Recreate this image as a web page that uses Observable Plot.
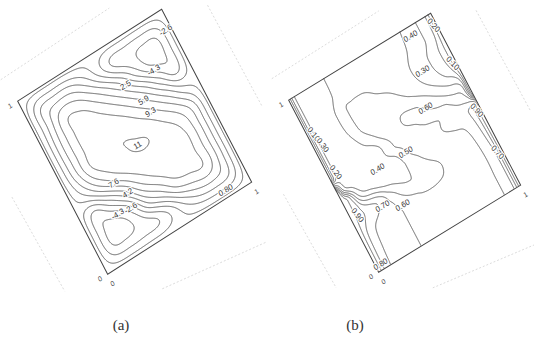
<!DOCTYPE html>
<html>
<head>
<meta charset="utf-8">
<script src="https://cdn.jsdelivr.net/npm/d3@7"></script>
<script src="https://cdn.jsdelivr.net/npm/@observablehq/plot@0.6"></script>
<style>
  html, body { margin: 0; padding: 0; background: #fff; }
  #fig { position: relative; width: 534px; height: 342px; overflow: hidden; background: #fff; }
  #fig svg { position: absolute; left: 0; top: 0; transform-origin: 0 0; max-width: none; }
  .caption { position: absolute; top: 316px; width: 40px; margin-left: -20px; text-align: center;
             font: 15px "Liberation Serif", "DejaVu Serif", serif; line-height: 18px; color: #333; }
</style>
</head>
<body>
<div id="fig"></div>
<script>
// ---------- (a) stream function: grid nodes (u across, v up) ----------
const psiU = [0, 0.1, 0.2, 0.3, 0.4, 0.5, 0.6, 0.7, 0.8, 0.9, 1];
const psiV = [0, 0.1, 0.2, 0.3, 0.4, 0.5, 0.6, 0.7, 0.8, 0.9, 1];
// rows from v = 0 (bottom) to v = 1 (top); negative values = counter-rotating corner cells
const psiRows = [
  [0, 0,     0,     0,    0,     0,     0,    0,    0,     0,     0],
  [0, -3.9,  -4.25, -3.7, -2.8,  -0.3,  3.0,  4.9,  5.3,   4.3,   0],
  [0, -4.25, -4.75, -2.4, 2.45,  5.3,   8.2,  9.0,  9.0,   5.4,   0],
  [0, -3.0,  -0.4,  3.0,  7.0,   9.25,  10.4, 10.6, 9.1,   5.4,   0],
  [0, 2.4,   5.8,   8.45, 10.05, 10.7,  10.75, 10.6, 9.1,  5.4,   0],
  [0, 4.95,  9.0,   10.5, 10.9,  11.05, 10.75, 9.5, 7.8,   4.95,  0],
  [0, 5.4,   9.1,   10.7, 10.75, 10.2,  8.8,  6.9,  4.3,   1.2,   0],
  [0, 5.4,   9.1,   10.6, 9.6,   8.0,   5.8,  3.0,  -0.5,  -3.3,  0],
  [0, 4.95,  8.8,   8.9,  7.1,   4.6,   1.55, -2.1, -4.75, -4.25, 0],
  [0, 4.3,   5.3,   5.3,  3.3,   0.1,   -3.0, -3.7, -4.25, -3.9,  0],
  [0, 0,     0,     0,    0,     0,     0,    0,    0,     0,     0]
];
const psiLevels = [-4.3, -2.6, -0.9, 0.8, 2.5, 4.2, 5.9, 7.6, 9.3, 11];
const psiLabelLevel = [-2.6, -4.3, 2.5, 5.9, 9.3, 11, 7.6, 4.2, -4.3, -2.6, 0.8];
const psiLabelU = [0.964, 0.793, 0.606, 0.659, 0.663, 0.506, 0.278, 0.324, 0.215, 0.299, 0.843];
const psiLabelV = [0.898, 0.758, 0.770, 0.655, 0.584, 0.476, 0.378, 0.296, 0.233, 0.223, 0.037];

// ---------- (b) temperature: grid nodes, refined near the walls and mid-height ----------
const tU = [0, 0.04, 0.1, 0.2, 0.3, 0.4, 0.5, 0.6, 0.7, 0.8, 0.9, 0.96, 1];
const tV = [0, 0.1, 0.2, 0.3, 0.4, 0.46, 0.5, 0.54, 0.6, 0.7, 0.8, 0.9, 1];
const tRows = [
  [1,   0.80, 0.68, 0.63,  0.60, 0.57, 0.55, 0.55, 0.56, 0.58, 0.61, 0.72, 1],
  [1,   0.81, 0.69, 0.635, 0.60, 0.57, 0.55, 0.55, 0.56, 0.58, 0.61, 0.72, 1],
  [1,   0.83, 0.71, 0.65,  0.60, 0.56, 0.53, 0.53, 0.55, 0.57, 0.61, 0.72, 1],
  [1,   0.88, 0.78, 0.68,  0.52, 0.42, 0.41, 0.47, 0.55, 0.57, 0.62, 0.75, 1],
  [1,   0.88, 0.51, 0.36,  0.33, 0.36, 0.46, 0.55, 0.58, 0.59, 0.64, 0.78, 1],
  [1,   0.49, 0.36, 0.32,  0.32, 0.38, 0.52, 0.57, 0.59, 0.62, 0.66, 0.80, 1],
  [0.5, 0.40, 0.32, 0.30,  0.31, 0.46, 0.53, 0.56, 0.59, 0.61, 0.62, 0.62, 0.5],
  [0,   0.30, 0.32, 0.30,  0.32, 0.47, 0.56, 0.59, 0.62, 0.62, 0.57, 0.48, 0],
  [0,   0.30, 0.32, 0.33,  0.43, 0.53, 0.58, 0.62, 0.60, 0.53, 0.46, 0.40, 0],
  [0,   0.30, 0.32, 0.38,  0.51, 0.56, 0.57, 0.52, 0.46, 0.38, 0.28, 0.18, 0],
  [0,   0.30, 0.32, 0.39,  0.51, 0.52, 0.49, 0.46, 0.42, 0.35, 0.25, 0.15, 0],
  [0,   0.30, 0.32, 0.37,  0.44, 0.46, 0.46, 0.45, 0.43, 0.38, 0.29, 0.19, 0],
  [0,   0.30, 0.32, 0.37,  0.43, 0.45, 0.45, 0.45, 0.43, 0.39, 0.29, 0.20, 0]
];
const tLevels = [0.1, 0.2, 0.3, 0.4, 0.5, 0.6, 0.7, 0.8, 0.9];
const tLabelLevel = [0.1, 0.3, 0.2, 0.4, 0.5, 0.6, 0.9, 0.7, 0.1, 0.3, 0.4, 0.2, 0.9, 0.7, 0.6, 0.8];
const tLabelU = [0.038, 0.056, 0.05, 0.282, 0.479, 0.708, 0.975, 0.969, 0.978, 0.795, 0.829, 0.982, 0.047, 0.205, 0.315, 0.033];
const tLabelV = [0.783, 0.71, 0.556, 0.456, 0.455, 0.595, 0.449, 0.207, 0.72, 0.766, 0.953, 0.939, 0.308, 0.28, 0.23, 0.03];
const tLabelAngle = [80, 80, 80, 0, 0, 0, 75, 75, 75, 0, 0, 75, 80, 0, 0, 0];

// faint edges of the perspective box behind each panel (data units)
const boxU1 = [-0.03, 1.25, -0.29, 0.245];
const boxV1 = [1.14, 0.89, 0.60, -0.215];
const boxU2 = [0.73, 1.26, -0.27, 0.91];
const boxV2 = [1.15, 0.30, 0.045, -0.30];

// ---------- helpers ----------
// cubic Hermite interpolation through nodes xs, ys; with `limit`, slopes are
// Fritsch–Carlson limited so that no overshoot appears between nodes
function hermite(xs, ys, limit) {
  const n = xs.length, h = [], s = [], m = new Array(n);
  for (let i = 0; i < n - 1; i++) { h[i] = xs[i + 1] - xs[i]; s[i] = (ys[i + 1] - ys[i]) / h[i]; }
  m[0] = s[0]; m[n - 1] = s[n - 2];
  for (let i = 1; i < n - 1; i++) {
    const p = (s[i - 1] * h[i] + s[i] * h[i - 1]) / (h[i - 1] + h[i]);
    m[i] = limit && s[i - 1] * s[i] <= 0 ? 0 : p;
  }
  if (limit) {
    for (let k = 0; k < n - 1; k++) {
      if (s[k] === 0) { m[k] = m[k + 1] = 0; continue; }
      let a = m[k] / s[k], b = m[k + 1] / s[k];
      if (a < 0) { m[k] = 0; a = 0; }
      if (b < 0) { m[k + 1] = 0; b = 0; }
      const r = a * a + b * b;
      if (r > 9) { const t = 3 / Math.sqrt(r); m[k] = t * a * s[k]; m[k + 1] = t * b * s[k]; }
    }
  }
  return x => {
    if (x <= xs[0]) return ys[0];
    if (x >= xs[n - 1]) return ys[n - 1];
    let k = 0; while (x > xs[k + 1]) k++;
    const t = (x - xs[k]) / h[k], t2 = t * t, t3 = t2 * t;
    return (2 * t3 - 3 * t2 + 1) * ys[k] + (t3 - 2 * t2 + t) * h[k] * m[k] +
           (-2 * t3 + 3 * t2) * ys[k + 1] + (t3 - t2) * h[k] * m[k + 1];
  };
}
// smooth surface through a rectilinear grid of nodes
function gridSurface(us, vs, rows, limit) {
  const along = rows.map(r => hermite(us, r, limit));
  const cache = new Map();
  return (x, y) => {
    let g = cache.get(x);
    if (!g) { g = hermite(vs, along.map(f => f(x)), limit); cache.set(x, g); }
    return g(y);
  };
}

const fmt2 = d3.format(".2r");
const fmt = v => (v < 0 ? "-" : "") + fmt2(Math.abs(v));
const PW = 170, PH = 195, M = 70;
const box = boxU1.map((u, i) => ({u1: u, v1: boxV1[i], u2: boxU2[i], v2: boxV2[i]}));

function panel(value, levels, labels) {
  return Plot.plot({
    width: PW + 2 * M, height: PH + 2 * M, margin: M,
    x: {domain: [0, 1], ticks: [0, 1], tickFormat: "d", tickSize: 0, tickPadding: 8, label: null},
    y: {domain: [0, 1], ticks: [0, 1], tickFormat: "d", tickSize: 0, tickPadding: 7, label: null},
    style: {background: "transparent", overflow: "visible", fontSize: "7px", color: "#444",
            fontFamily: "'Liberation Sans', Arial, sans-serif"},
    marks: [
      Plot.link(box, {x1: "u1", y1: "v1", x2: "u2", y2: "v2", stroke: "#d6d6d6",
                      strokeWidth: 0.8, strokeDasharray: "2,2"}),
      Plot.contour({
        value, thresholds: levels, x1: -0.03, x2: 1.03, y1: -0.03, y2: 1.03,
        pixelSize: 0.5, stroke: "#5a5a5a", strokeWidth: 0.85, clip: true
      }),
      Plot.frame({stroke: "#444", strokeWidth: 1}),
      Plot.text(labels, {x: "u", y: "v", text: d => fmt(d.level), rotate: "angle",
                         fontSize: 8, fill: "#333", stroke: "white", strokeWidth: 2.5,
                         paintOrder: "stroke", opacity: 0.98})
    ]
  });
}

// maps the unit square onto the panel's corners B (0,0), R (1,0), L (0,1)
function place(svg, B, R, L) {
  const a = (R[0] - B[0]) / PW, b = (R[1] - B[1]) / PW;
  const c = (B[0] - L[0]) / PH, d = (B[1] - L[1]) / PH;
  const e = B[0] - a * M - c * (M + PH), f = B[1] - b * M - d * (M + PH);
  svg.style.transform = `matrix(${a},${b},${c},${d},${e},${f})`;
}

const fig = document.getElementById("fig");

const svgA = panel(
  gridSurface(psiU, psiV, psiRows, false), psiLevels,
  psiLabelLevel.map((level, i) => ({level, u: psiLabelU[i], v: psiLabelV[i], angle: 0}))
);
place(svgA, [107, 274], [251, 182], [17, 101]);
fig.appendChild(svgA);

const svgB = panel(
  gridSurface(tU, tV, tRows, true), tLevels,
  tLabelLevel.map((level, i) => ({level, u: tLabelU[i], v: tLabelV[i], angle: tLabelAngle[i]}))
);
place(svgB, [378, 272], [520, 185], [288, 100]);
fig.appendChild(svgB);

for (const [text, x] of [["(a)", 121], ["(b)", 355]]) {
  const div = document.createElement("div");
  div.className = "caption";
  div.style.left = x + "px";
  div.textContent = text;
  fig.appendChild(div);
}
</script>
</body>
</html>
